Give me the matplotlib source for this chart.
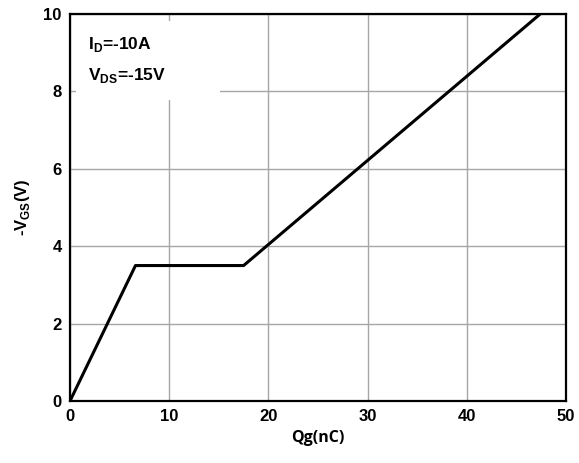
import matplotlib.pyplot as plt
from matplotlib.patches import Rectangle

plt.rcParams['font.family'] = ['Liberation Sans', 'DejaVu Sans']
plt.rcParams['font.weight'] = 'bold'
plt.rcParams['mathtext.fontset'] = 'custom'
plt.rcParams['mathtext.rm'] = 'Liberation Sans:bold'
plt.rcParams['mathtext.bf'] = 'Liberation Sans:bold'

# Gate charge curve
qg = [0, 6.6, 17.5, 47.4]
vgs = [0, 3.5, 3.5, 10]

x_ticks = [0, 10, 20, 30, 40, 50]
y_ticks = [0, 2, 4, 6, 8, 10]

fig = plt.figure(figsize=(5.79, 4.63), dpi=100)
ax = fig.add_axes([0.1209, 0.1339, 0.8567, 0.8359])

ax.plot(qg, vgs, color='black', linewidth=2.2, solid_capstyle='butt', zorder=3)

ax.set_xlim(0, 50)
ax.set_ylim(0, 10)
ax.set_xticks(x_ticks)
ax.set_yticks(y_ticks)
ax.tick_params(length=0, labelsize=12, pad=6)
for lab in ax.get_xticklabels() + ax.get_yticklabels():
    lab.set_fontweight('bold')

ax.grid(True, color='#a6a6a6', linewidth=1.0, zorder=0)
for sp in ax.spines.values():
    sp.set_linewidth(1.6)
    sp.set_color('black')

ax.set_xlabel('Qg(nC)', fontsize=11.5, fontweight='bold', family=['Open Sans', 'DejaVu Sans'], labelpad=4)
ax.set_ylabel(r'-V$_{\mathrm{GS}}$(V)', fontsize=12, fontweight='bold', labelpad=8)

# white area behind the conditions text (hides the grid there)
ax.add_patch(Rectangle((0.012, 0.778), 0.29, 0.205, transform=ax.transAxes,
                       facecolor='white', edgecolor='none', zorder=2))
ax.text(0.036, 0.922, r'I$_{\mathrm{D}}$=-10A', transform=ax.transAxes,
        fontsize=12.5, fontweight='bold', va='center', ha='left', zorder=4)
ax.text(0.036, 0.842, r'V$_{\mathrm{DS}}$=-15V', transform=ax.transAxes,
        fontsize=12.5, fontweight='bold', va='center', ha='left', zorder=4)

fig.savefig('out.png', dpi=100)
